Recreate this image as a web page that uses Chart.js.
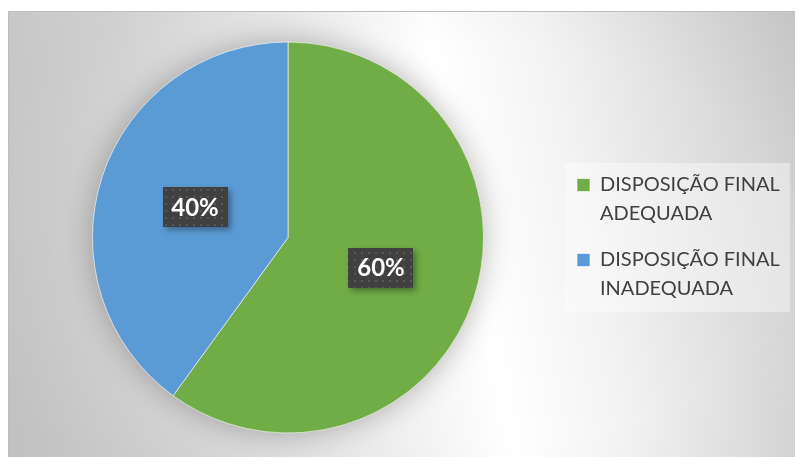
<!DOCTYPE html>
<html>
<head>
<meta charset="utf-8">
<title>Disposição final</title>
<script src="https://cdn.jsdelivr.net/npm/chart.js@4.4.1/dist/chart.umd.min.js"></script>
<style>
  html, body { margin: 0; padding: 0; background: #ffffff; overflow: hidden; }
  #frame {
    position: absolute; left: 8px; top: 11px;
    width: 800px; height: 460px;
    border: 1px solid #bdbdbd;
    background:
      radial-gradient(ellipse 520px 330px at 470px 235px, rgba(0,0,0,0) 60%, rgba(0,0,0,0.04) 100%),
      linear-gradient(78.6deg, #c8c8c8 0%, #d8d8d8 22%, #efefef 44%, #ffffff 57%, #f3f3f3 70%, #c9c9c9 100%);
  }
  #wasteChart { position: absolute; left: 0; top: 0; }
</style>
</head>
<body>
<div id="frame">
  <canvas id="wasteChart" width="786" height="445"></canvas>
</div>
<script>
// categories (two-line legend entries), shares in percent, slice colours
const categories = [['DISPOSIÇÃO FINAL', 'ADEQUADA'], ['DISPOSIÇÃO FINAL', 'INADEQUADA']];
const shares = [60, 40];
const sliceColors = ['#70AD47', '#5B9BD5'];

const LEGEND_WIDTH = 235;

// small dotted tile used behind the percentage labels
function makeDotPattern(ctx) {
  const tile = document.createElement('canvas');
  tile.width = 7;
  tile.height = 7;
  const t = tile.getContext('2d');
  t.fillStyle = 'rgba(255,255,255,0.13)';
  t.fillRect(2, 2, 2, 2);
  return ctx.createPattern(tile, 'repeat');
}

// soft shadow under the whole pie
const pieShadow = {
  id: 'pieShadow',
  beforeDatasetsDraw(chart) {
    const arc = chart.getDatasetMeta(0).data[0];
    if (!arc) return;
    const ctx = chart.ctx;
    ctx.save();
    ctx.shadowColor = 'rgba(0,0,0,0.28)';
    ctx.shadowBlur = 30;
    ctx.fillStyle = '#b8b8b8';
    ctx.beginPath();
    ctx.arc(arc.x, arc.y, arc.outerRadius, 0, Math.PI * 2);
    ctx.fill();
    ctx.restore();
  }
};

// light panel behind the legend
const legendPanel = {
  id: 'legendPanel',
  beforeInit(chart) {
    // fixed legend width so the pie keeps its place
    const legend = chart.legend;
    const fit = legend.fit;
    legend.fit = function() {
      fit.call(this);
      this.width = LEGEND_WIDTH;
    };
  },
  beforeDraw(chart) {
    const boxes = chart.legend.legendHitBoxes;
    if (!boxes || !boxes.length) return;
    const first = boxes[0];
    const last = boxes[boxes.length - 1];
    const x = first.left - 12;
    const y = first.top - 12;
    const w = 225;
    const h = last.top + last.height + 4 - y;
    const ctx = chart.ctx;
    ctx.save();
    ctx.fillStyle = 'rgba(255,255,255,0.4)';
    ctx.fillRect(x, y, w, h);
    ctx.restore();
  }
};

// dark percentage tags in the middle of each slice
const sliceLabels = {
  id: 'sliceLabels',
  afterDatasetsDraw(chart) {
    const ctx = chart.ctx;
    const meta = chart.getDatasetMeta(0);
    const values = chart.data.datasets[0].data;
    const pattern = makeDotPattern(ctx);
    ctx.save();
    ctx.font = 'bold 24px Lato';
    ctx.textAlign = 'center';
    ctx.textBaseline = 'middle';
    meta.data.forEach((arc, i) => {
      const pos = arc.tooltipPosition();
      const text = values[i] + '%';
      const w = Math.round(ctx.measureText(text).width + 17);
      const h = 40;
      const x = Math.round(pos.x - w / 2);
      const y = Math.round(pos.y - h / 2);

      ctx.save();
      ctx.shadowColor = 'rgba(0,0,0,0.35)';
      ctx.shadowBlur = 6;
      ctx.shadowOffsetX = 3;
      ctx.shadowOffsetY = 3;
      ctx.fillStyle = '#404040';
      ctx.fillRect(x, y, w, h);
      ctx.restore();

      ctx.fillStyle = pattern;
      ctx.fillRect(x, y, w, h);

      ctx.fillStyle = '#ffffff';
      ctx.fillText(text, pos.x, pos.y + 1);
    });
    ctx.restore();
  }
};

const ctx = document.getElementById('wasteChart').getContext('2d');

new Chart(ctx, {
  type: 'pie',
  data: {
    labels: categories,
    datasets: [{
      data: shares,
      backgroundColor: sliceColors,
      borderColor: 'rgba(255,255,255,0.6)',
      borderWidth: 1
    }]
  },
  options: {
    responsive: false,
    animation: false,
    layout: {
      padding: { top: 29.5, bottom: 23.5, left: 7, right: 0 }
    },
    plugins: {
      tooltip: { enabled: false },
      legend: {
        position: 'right',
        align: 'center',
        title: { display: true, text: '', padding: 0, font: { size: 8, lineHeight: 1 } },
        labels: {
          boxWidth: 13,
          boxHeight: 13,
          padding: 17,
          color: '#404040',
          font: { family: 'Lato', size: 20, lineHeight: 1.45 }
        }
      }
    }
  },
  plugins: [pieShadow, legendPanel, sliceLabels]
});
</script>
</body>
</html>
